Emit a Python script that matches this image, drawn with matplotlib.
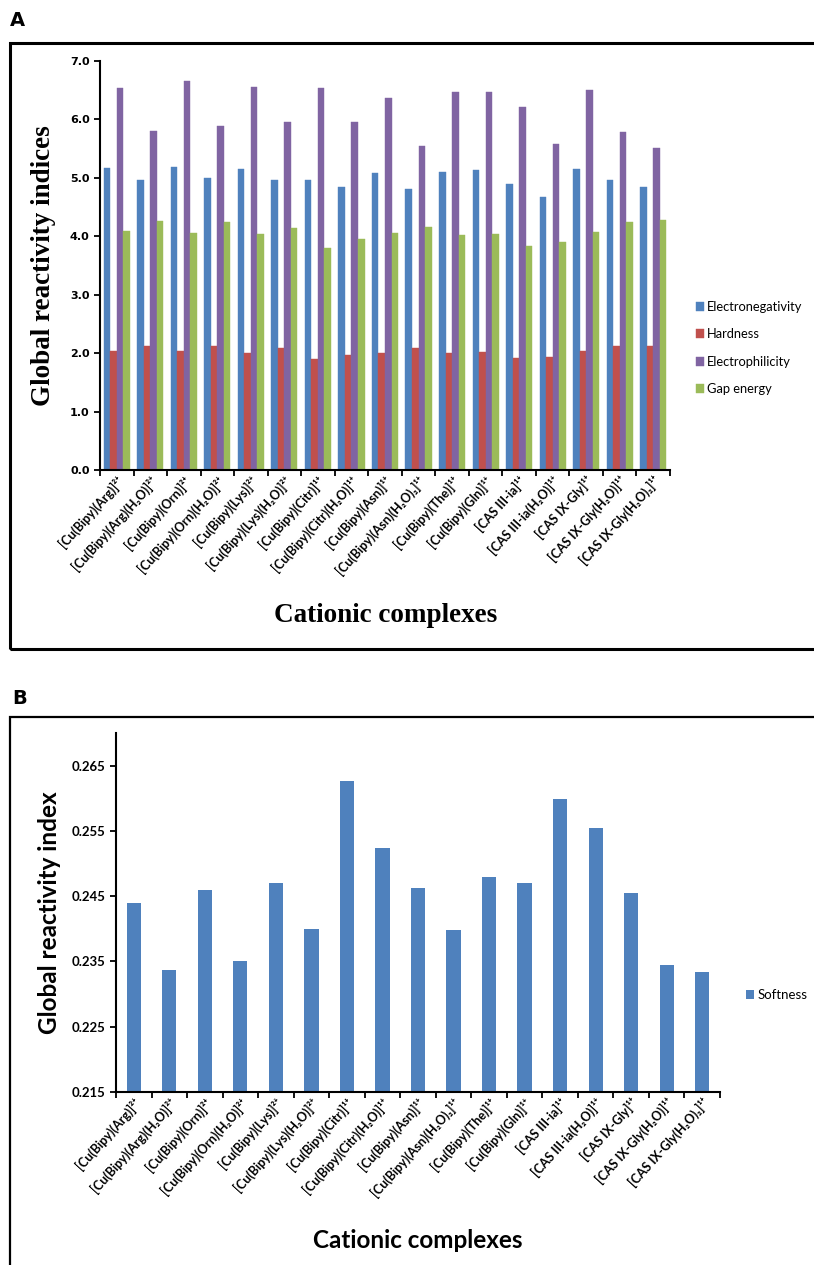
import numpy as np
import matplotlib
matplotlib.use("Agg")
import matplotlib.pyplot as plt
from matplotlib.patches import Rectangle

# complexes on the x axis (same order in both panels)
complexes = [
    "[Cu(Bipy)(Arg)]²⁺", "[Cu(Bipy)(Arg)(H₂O)]²⁺", "[Cu(Bipy)(Orn)]²⁺",
    "[Cu(Bipy)(Orn)(H₂O)]²⁺", "[Cu(Bipy)(Lys)]²⁺", "[Cu(Bipy)(Lys)(H₂O)]²⁺",
    "[Cu(Bipy)(Citr)]¹⁺", "[Cu(Bipy)(Citr)(H₂O)]¹⁺", "[Cu(Bipy)(Asn)]¹⁺",
    "[Cu(Bipy)(Asn)(H₂O)₂]¹⁺", "[Cu(Bipy)(The)]¹⁺", "[Cu(Bipy)(Gln)]¹⁺",
    "[CAS III-ia]¹⁺", "[CAS III-ia(H₂O)]¹⁺", "[CAS IX-Gly]¹⁺",
    "[CAS IX-Gly(H₂O)]¹⁺", "[CAS IX-Gly(H₂O)₂]¹⁺",
]

# panel A values
electronegativity = [5.17, 4.97, 5.19, 5.00, 5.15, 4.97, 4.97, 4.85, 5.09,
                     4.81, 5.10, 5.13, 4.89, 4.68, 5.15, 4.96, 4.85]
hardness = [2.04, 2.13, 2.03, 2.12, 2.01, 2.08, 1.90, 1.97, 2.01,
            2.08, 2.00, 2.02, 1.91, 1.94, 2.03, 2.13, 2.13]
electrophilicity = [6.53, 5.81, 6.65, 5.89, 6.55, 5.95, 6.53, 5.95, 6.37,
                    5.55, 6.47, 6.47, 6.21, 5.58, 6.51, 5.78, 5.51]
gap_energy = [4.09, 4.27, 4.05, 4.24, 4.04, 4.15, 3.80, 3.95, 4.05,
              4.16, 4.03, 4.04, 3.84, 3.91, 4.07, 4.25, 4.28]

# panel B
softness = [0.2439, 0.2337, 0.2460, 0.2350, 0.2470, 0.2399, 0.2627, 0.2524,
            0.2463, 0.2398, 0.2479, 0.2470, 0.2599, 0.2554, 0.2455, 0.2344,
            0.2334]

series_names = ["Electronegativity", "Hardness", "Electrophilicity", "Gap energy"]
colors = ["#4F81BD", "#C0504D", "#8064A2", "#9BBB59"]

sans = ["Lato", "DejaVu Sans"]
serif = ["Liberation Serif", "DejaVu Serif"]

fig = plt.figure(figsize=(8.14, 12.65), dpi=100)
W, H = 814, 1265


def fx(px):
    return px / W


def fy(py):
    return 1 - py / H


# frames around the panels
fig.patches.append(Rectangle((fx(10), fy(649)), 1.0, fy(43) - fy(649),
                             transform=fig.transFigure, fill=False,
                             edgecolor="black", linewidth=2.2))
fig.patches.append(Rectangle((fx(10), -0.05), 1.0, fy(717) + 0.05,
                             transform=fig.transFigure, fill=False,
                             edgecolor="black", linewidth=1.6))
fig.text(fx(10), fy(21), "A", fontsize=14, fontweight="bold",
         family="DejaVu Sans", va="center", ha="left")
fig.text(fx(12), fy(698), "B", fontsize=14, fontweight="bold",
         family="DejaVu Sans", va="center", ha="left")

x = np.arange(len(complexes))


def style_axis(ax):
    ax.spines["top"].set_visible(False)
    ax.spines["right"].set_visible(False)
    ax.spines["left"].set_linewidth(1.5)
    ax.spines["bottom"].set_linewidth(1.5)
    ax.set_xlim(-0.5, len(complexes) - 0.5)
    ax.set_xticks(x)
    ax.set_xticks(np.arange(len(complexes) + 1) - 0.5, minor=True)
    ax.tick_params(axis="x", which="major", length=0, pad=3)
    ax.tick_params(axis="x", which="minor", length=4, width=1.3, direction="out")
    ax.tick_params(axis="y", length=4, width=1.3, direction="out")


# ---- panel A ----
axA = fig.add_axes([fx(100), fy(470), fx(670) - fx(100), fy(61) - fy(470)])
w = 0.195
allA = [electronegativity, hardness, electrophilicity, gap_energy]
for i, (vals, name, c) in enumerate(zip(allA, series_names, colors)):
    axA.bar(x + (i - 1.5) * w, vals, width=w, color=c, label=name,
            edgecolor=c, linewidth=0.3)
axA.set_ylim(0, 7)
axA.set_yticks(np.arange(0, 7.01, 1.0))
axA.set_yticklabels([f"{v:.1f}" for v in np.arange(0, 7.01, 1.0)],
                    fontsize=8, fontweight="bold", family="DejaVu Sans")
style_axis(axA)
axA.set_xticklabels(complexes, rotation=48, ha="right", rotation_mode="anchor",
                    fontsize=9, fontweight="bold", family=sans)
axA.set_ylabel("Global reactivity indices", fontsize=19.5, fontweight="bold",
               family=serif, labelpad=10)
fig.text(fx(386), fy(615), "Cationic complexes", fontsize=19.5,
         fontweight="bold", family=serif, ha="center", va="center")
fig.legend(*axA.get_legend_handles_labels(), loc="center left",
           bbox_to_anchor=(fx(684), fy(348)), frameon=False,
           prop={"family": sans, "size": 9.3}, handlelength=0.65,
           handleheight=0.65, handletextpad=0.25, labelspacing=1.2)

# ---- panel B ----
axB = fig.add_axes([fx(116), fy(1092), fx(720) - fx(116), fy(733) - fy(1092)])
axB.bar(x, softness, width=0.4, color="#4F81BD", label="Softness")
axB.set_ylim(0.215, 0.27)
ticksB = np.arange(0.215, 0.2651, 0.01)
axB.set_yticks(ticksB)
axB.set_yticklabels([f"{v:.3f}" for v in ticksB], fontsize=9.5,
                    fontweight="bold", family=sans)
style_axis(axB)
axB.set_xticklabels(complexes, rotation=48, ha="right", rotation_mode="anchor",
                    fontsize=9, fontweight="bold", family=sans)
axB.set_ylabel("Global reactivity index", fontsize=17.5, fontweight="bold",
               family=sans, labelpad=8)
fig.text(fx(418), fy(1240), "Cationic complexes", fontsize=17.5,
         fontweight="bold", family=sans, ha="center", va="center")
fig.legend(*axB.get_legend_handles_labels(), loc="center left",
           bbox_to_anchor=(fx(734), fy(995)), frameon=False,
           prop={"family": sans, "size": 9.5}, handlelength=0.65,
           handleheight=0.65, handletextpad=0.25)

fig.savefig("out.png", dpi=100)
